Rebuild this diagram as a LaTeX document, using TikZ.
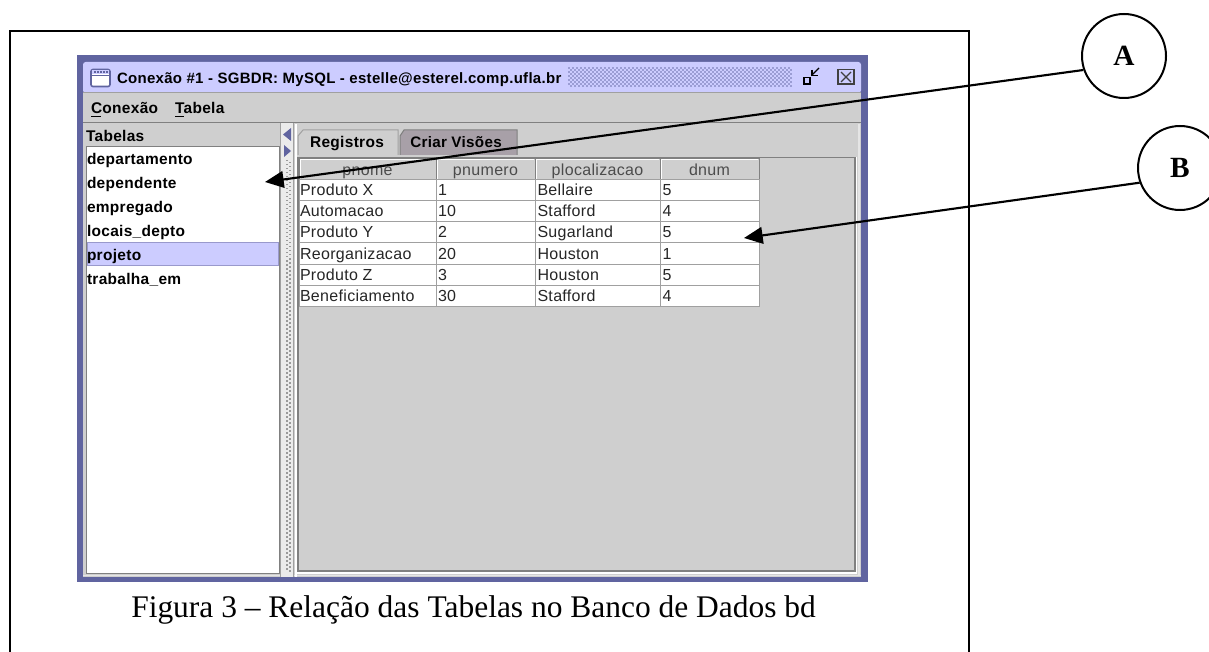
\documentclass[tikz,border=0pt]{standalone}
\usepackage{fontspec}
\usetikzlibrary{arrows.meta}
\setmainfont{Liberation Serif}
\newfontfamily\uifont[LetterSpace=2]{Liberation Sans}
\newcommand{\uireg}{\uifont\fontsize{12}{14}\selectfont}
\newcommand{\uibold}{\uifont\bfseries\fontsize{11.6}{14}\selectfont}
\definecolor{winblue}{HTML}{6064A0}
\definecolor{titlebg}{HTML}{CCCCFF}
\definecolor{uigray}{HTML}{CFCFCF}
\definecolor{uidark}{HTML}{808080}
\definecolor{uimid}{HTML}{A0A0A0}
\definecolor{uitab}{HTML}{A8A0A8}
\definecolor{uisel}{HTML}{9999CC}
\tikzset{
  x=0.75pt,y=-0.75pt,
  lbl/.style={inner sep=0pt,outer sep=0pt,anchor=base west,font=\uireg,text=black!85},
  boldlbl/.style={lbl,font=\uibold,text=black},
  hdr/.style={inner sep=0pt,outer sep=0pt,anchor=base,font=\uireg,text=black!70},
  callout/.style={circle,draw=black,line width=1.5pt,minimum size=63pt,inner sep=0pt,fill=white,font=\bfseries\fontsize{22}{26}\selectfont},
  pointer/.style={draw=black,line width=1.6pt,-{Triangle[length=14pt,width=12.5pt]}},
  cell/.style={draw=uimid,line width=0.75pt,fill=white},
  headcell/.style={draw=uidark,line width=0.75pt,fill=uigray}
}
\begin{document}
\begin{tikzpicture}
\useasboundingbox (0,0) rectangle (1209,652);
\fill[white] (0,0) rectangle (1209,652);
% outer frame
\draw[line width=1.7pt,line join=miter] (10,652) -- (10,31) -- (969,31) -- (969,652);
% window
\fill[winblue] (77,55) rectangle (868,582);
\fill[uigray] (83,92) rectangle (861,577);
\fill[titlebg,rounded corners=2pt] (83,62) -- (861,62) -- (861,93) -- (83,93) -- cycle;
\draw[uimid,line width=0.75pt] (83,92.5) -- (861,92.5);
\draw[white!90!black,line width=0.9pt] (83,575.5) -- (861,575.5);
\draw[white!90!black,line width=0.9pt] (859,124) -- (859,576);
% title icon
\draw[winblue,line width=1.2pt,rounded corners=1.5pt,fill=white] (91,69.5) rectangle (110,86.5);
\fill[titlebg] (92,70) rectangle (109,74.5);
\draw[winblue,line width=0.7pt] (91,75) -- (110,75);
\foreach \dx in {94,97,...,107}{\fill[winblue] (\dx,71.5) rectangle (\dx+1.5,73);}
\node[boldlbl,font=\uifont\bfseries\fontsize{11.25}{14}\selectfont] (title) at (117,84) {Conexão \#1 - SGBDR: MySQL - estelle@esterel.comp.ufla.br};
% dithered title area
\foreach \dy in {0,1,2,3,4}{
  \foreach \dx in {0,1,...,55}{
    \fill[winblue!45!titlebg] (568+4*\dx,67.5+4*\dy) rectangle (570+4*\dx,69.5+4*\dy);
    \fill[winblue!45!titlebg] (570+4*\dx,69.5+4*\dy) rectangle (572+4*\dx,71.5+4*\dy);
  }
}
% window buttons
\draw[black,line width=1.1pt] (804,77.5) rectangle (810,84);
\draw[black,line width=0.9pt] (811.5,75.5) -- (819,68);
\draw[black,line width=0.9pt] (812,70) -- (812,75.5) -- (818,75.5);
\draw[black!75,line width=1pt] (838,69.5) rectangle (854,84);
\draw[black!75,line width=1pt] (841,72) -- (851,82) (851,72) -- (841,82);
% menu
\node[boldlbl] (m1) at (91,113.5) {Conexão};
\node[boldlbl] (m2) at (175,113.5) {Tabela};
\draw[black,line width=0.75pt] (91,116.5) -- (101,116.5) (175,116.5) -- (184,116.5);
\draw[uidark,line width=1.2pt] (83,122.5) -- (861,122.5);
% left list
\node[boldlbl] (th) at (86,141.5) {Tabelas};
\draw[uidark,line width=0.75pt,fill=white] (86,147) rectangle (279,573);
\fill[titlebg] (87,243) rectangle (278,265);
\draw[uisel,line width=0.75pt] (87,243) rectangle (278,265);
\node[boldlbl] (l1) at (87,165) {departamento};
\node[boldlbl] (l2) at (87,189) {dependente};
\node[boldlbl] (l3) at (87,213) {empregado};
\node[boldlbl] (l4) at (87,236.5) {locais\_depto};
\node[boldlbl] (l5) at (87,260) {projeto};
\node[boldlbl] (l6) at (87,284) {trabalha\_em};
% divider
\fill[white!92!black] (281,123) rectangle (293,577);
\foreach \dy in {0,1,...,102}{
  \fill[uidark!80] (286,160+4*\dy) rectangle (287.5,161.5+4*\dy);
  \fill[uidark!80] (289,162+4*\dy) rectangle (290.5,163.5+4*\dy);
}
\draw[uimid,line width=0.75pt] (280.5,123) -- (280.5,577) (293.5,123) -- (293.5,577);
\fill[winblue] (291,128) -- (283,134.5) -- (291,141) -- cycle;
\fill[winblue] (284,145) -- (291,151) -- (284,157) -- cycle;
% tabs and pane
\draw[white,line width=0.8pt] (296,124) -- (296,577);
\fill[uitab] (400,155) -- (400,136) -- (404,130) -- (517,130) -- (517,155) -- cycle;
\draw[uidark,line width=0.75pt] (400,155) -- (400,136) -- (404,130) -- (517,130) -- (517,155);
\fill[uigray] (298,155) -- (298,136) -- (303,130) -- (398,130) -- (398,157) -- (298,157) -- cycle;
\draw[uimid,line width=0.75pt] (298,155) -- (298,136) -- (303,130) -- (398,130) -- (398,155);
\node[boldlbl,anchor=base] (t1) at (347,148) {Registros};
\node[boldlbl,anchor=base,font=\uifont\bfseries\fontsize{11.4}{14}\selectfont] (t2) at (456,148) {Criar Visões};
\draw[uidark,line width=0.9pt] (298,157.5) rectangle (855,571);
\draw[white,line width=0.9pt] (856.5,157) -- (856.5,573) -- (296.5,573);
% table
\foreach \xa/\xb/\nm in {299/436/pnome,436/535/pnumero,535/660/plocalizacao,660/759/dnum}{
  \draw[headcell] (\xa,159) rectangle (\xb,180);
  \draw[white,line width=0.75pt] (\xa+1,179) -- (\xa+1,160) -- (\xb-1,160);
  \node[hdr] (h\nm) at ({(\xa+\xb)/2},176) {\nm};
}
\foreach \ya/\yb/\pa/\pb/\pc/\pd in {180/201/Produto X/1/Bellaire/5,201/222/Automacao/10/Stafford/4,222/243/Produto Y/2/Sugarland/5,243/264/Reorganizacao/20/Houston/1,264/285/Produto Z/3/Houston/5,285/306/Beneficiamento/30/Stafford/4}{
  \draw[cell] (299,\ya) rectangle (436,\yb);
  \draw[cell] (436,\ya) rectangle (535,\yb);
  \draw[cell] (535,\ya) rectangle (660,\yb);
  \draw[cell] (660,\ya) rectangle (759,\yb);
  \node[lbl] (a\ya) at (300,\yb-5) {\pa};
  \node[lbl] (b\ya) at (438,\yb-5) {\pb};
  \node[lbl] (c\ya) at (537.5,\yb-5) {\pc};
  \node[lbl] (d\ya) at (662.5,\yb-5) {\pd};
}
% caption
\node[inner sep=0pt,anchor=base west,font=\fontsize{23.6}{28}\selectfont] (cap) at (131,617) {Figura 3 – Relação das Tabelas no Banco de Dados bd};
% callouts
\node[callout] (A) at (1124,56) {A};
\node[callout] (B) at (1180,168) {B};
\coordinate (tipA) at (265,182);
\coordinate (tipB) at (744,238);
\draw[pointer] (A.199) -- (tipA);
\draw[pointer] (B.200) -- (tipB);
\end{tikzpicture}
\end{document}
